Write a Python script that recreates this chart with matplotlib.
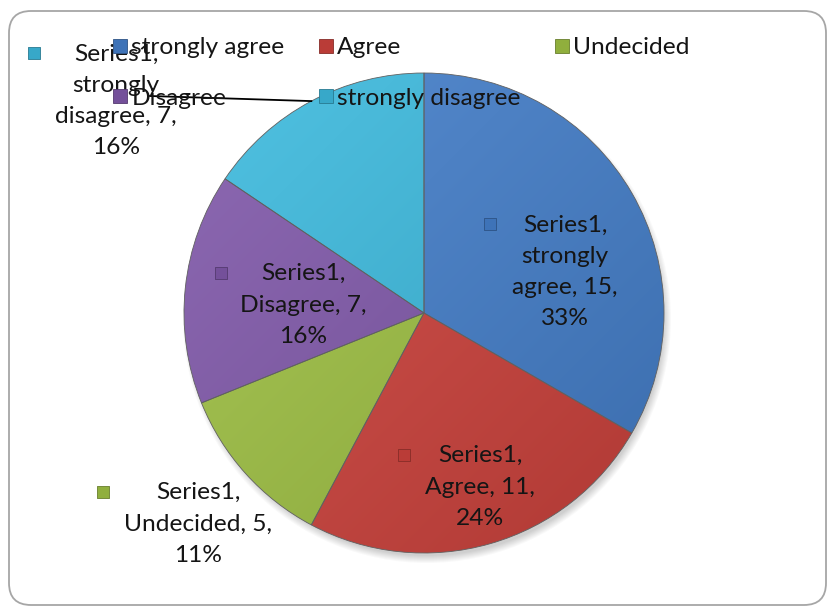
import numpy as np
import matplotlib.pyplot as plt
from matplotlib.patches import FancyBboxPatch
from matplotlib.lines import Line2D
from matplotlib.colors import to_rgb

plt.rcParams['font.family'] = ['Lato', 'DejaVu Sans']

# survey answers
series_name = 'Series1'
categories = ['strongly agree', 'Agree', 'Undecided', 'Disagree', 'strongly disagree']
counts = [15, 11, 5, 7, 7]
colors = ['#4580CC', '#CF433D', '#A0C244', '#8159AB', '#3DBBDF']

# layout (pixel coords, y measured from the top)
W, H = 831, 614
pie_center = (424, 313)
pie_radius = 240
label_pos = [(565, 272), (480, 487), (198, 524), (303, 305), (116, 101)]
marker_dx = [-75, -76, -95, -82, -82]
line_step = 32
font_px = 24.5
fsize = font_px * 72 / 100


def shade(c, f):
    r, g, b = to_rgb(c)
    if f >= 0:
        return (r + (1 - r) * f, g + (1 - g) * f, b + (1 - b) * f)
    return (r * (1 + f), g * (1 + f), b * (1 + f))


fig = plt.figure(figsize=(W / 100, H / 100), dpi=100)
ax = fig.add_axes([0, 0, 1, 1])

cx, cy = pie_center[0], H - pie_center[1]

# soft shadow under the pie
for k in range(8):
    sh = plt.Circle((cx + 3, cy - 6), pie_radius + 4 - k, color='black', alpha=0.025, lw=0)
    ax.add_patch(sh)

wedges, _ = ax.pie(counts, colors=colors, startangle=90, counterclock=False,
                   center=(cx, cy), radius=pie_radius, frame=True,
                   wedgeprops=dict(edgecolor='#606060', linewidth=0.6))

# light top-left to darker bottom-right gradient inside each wedge
yy, xx = np.mgrid[0:1:200j, 0:1:200j]
t = (xx + yy) / 2.0
for w, c in zip(wedges, colors):
    light = np.array(shade(c, 0.10))
    dark = np.array(shade(c, -0.15))
    img = light[None, None, :] * (1 - t[..., None]) + dark[None, None, :] * t[..., None]
    im = ax.imshow(img, extent=(cx - pie_radius, cx + pie_radius, cy - pie_radius, cy + pie_radius),
                   origin='upper', zorder=w.get_zorder(), interpolation='bilinear')
    im.set_clip_path(w)
    w.set_facecolor('none')
    w.set_zorder(w.get_zorder() + 0.1)

ax.set_xlim(0, W)
ax.set_ylim(0, H)
ax.set_aspect('auto')
ax.axis('off')

# outer frame
frame = FancyBboxPatch((9, 9), W - 14, H - 20, boxstyle='round,pad=0,rounding_size=22',
                       transform=None, facecolor='none', edgecolor='#A6A6A6', linewidth=1.3)
fig.patches.append(frame)

total = sum(counts)
for i, (cat, v) in enumerate(zip(categories, counts)):
    pct = round(100 * v / total)
    words = cat.split()
    lines = [f'{series_name},'] + words[:-1] + [f'{words[-1]}, {v},', f'{pct}%']
    lx, ly = label_pos[i]
    ax.text(lx, H - ly, '\n'.join(lines), ha='center', va='center',
            fontsize=fsize, color='#151515', linespacing=1.6, zorder=10)
    top_y = ly - (len(lines) - 1) * line_step / 2
    ax.scatter([lx + marker_dx[i]], [H - top_y], marker='s', s=80,
               color=shade(colors[i], -0.1), edgecolor=shade(colors[i], -0.35),
               linewidth=0.6, zorder=10)

# leader line from the outside label to the middle of its wedge
w = wedges[4]
mid = np.deg2rad((w.theta1 + w.theta2) / 2)
ax.plot([150, cx + pie_radius * np.cos(mid)], [H - 96, cy + pie_radius * np.sin(mid)],
        color='black', lw=1.3, zorder=9)

# legend, row-major order
order = [0, 3, 1, 4, 2]
handles = [Line2D([], [], marker='s', linestyle='', markersize=9.5,
                  markerfacecolor=shade(colors[i], -0.1), markeredgecolor=shade(colors[i], -0.35),
                  markeredgewidth=0.6) for i in order]
leg = ax.legend(handles, [categories[i] for i in order], ncol=3, frameon=False,
                loc='upper left', bbox_to_anchor=(113 / W, 1 - 37 / H),
                fontsize=fsize, handlelength=0.55, handletextpad=0.2,
                columnspacing=1.4, labelspacing=1.2, borderpad=0, borderaxespad=0)
for txt in leg.get_texts():
    txt.set_color('#151515')
leg.set_zorder(11)

fig.savefig('out.png', dpi=100)
